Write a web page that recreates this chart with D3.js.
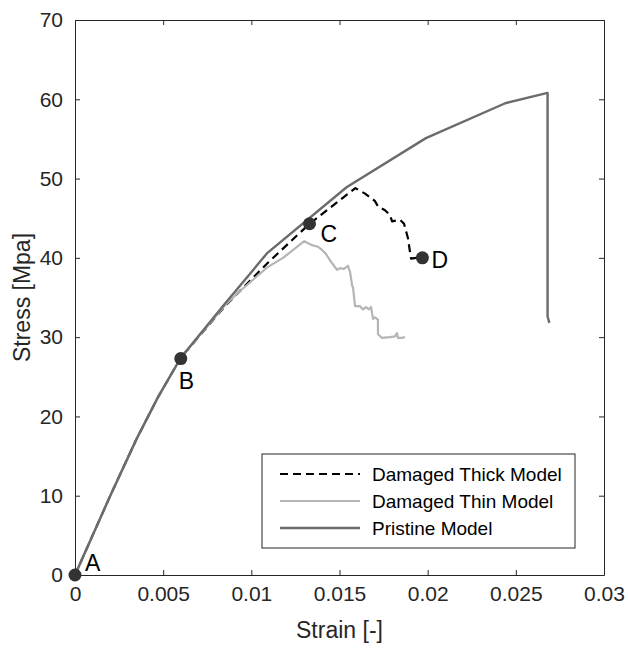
<!DOCTYPE html>
<html>
<head>
<meta charset="utf-8">
<script src="https://cdn.jsdelivr.net/npm/d3@7/dist/d3.min.js"></script>
<style>
  html, body { margin: 0; padding: 0; background: #fff; }
  svg { display: block; font-family: "Liberation Sans", Arial, Helvetica, sans-serif; }
</style>
</head>
<body>
<svg id="chart" width="628" height="648"></svg>
<script>
// Stress-strain response of the three models
const pristineStrain = [0, 0.0020, 0.0035, 0.0047, 0.0060, 0.0085, 0.0109, 0.0154, 0.0199, 0.0244, 0.0268, 0.0268, 0.0269];
const pristineStress = [0, 10.0, 17.2, 22.4, 27.4, 34.2, 40.6, 48.9, 55.1, 59.5, 60.8, 32.6, 31.8];

const thickStrain = [0, 0.0020, 0.0035, 0.0047, 0.0060, 0.0085, 0.0109, 0.0133, 0.0159, 0.01645, 0.0170, 0.01718, 0.01758, 0.01786, 0.01798, 0.01843, 0.01866, 0.01888, 0.0190, 0.01906, 0.01934, 0.0197];
const thickStress = [0, 10.0, 17.2, 22.4, 27.4, 33.9, 39.3, 44.3, 48.8, 48.1, 47.2, 46.5, 46.0, 45.4, 44.6, 44.8, 44.3, 42.5, 40.7, 39.9, 40.0, 40.0];

const thinStrain = [0, 0.0020, 0.0035, 0.0047, 0.0060, 0.0085, 0.0092, 0.0109, 0.0118, 0.0130, 0.01344, 0.01378, 0.01401, 0.01423, 0.01446, 0.01469, 0.01486, 0.01503, 0.01525, 0.01548, 0.0156, 0.01571, 0.01577, 0.01588, 0.01616, 0.01633, 0.0165, 0.01667, 0.01679, 0.0169, 0.01701, 0.01718, 0.01718, 0.01741, 0.01786, 0.01815, 0.01826, 0.01832, 0.01854, 0.01871];
const thinStress = [0, 10.0, 17.2, 22.4, 27.4, 34.0, 35.5, 38.8, 40.0, 42.1, 41.6, 41.4, 41.0, 40.5, 39.7, 39.0, 38.5, 38.7, 38.6, 39.0, 38.2, 36.6, 36.2, 33.9, 33.9, 33.5, 33.8, 33.5, 33.8, 32.3, 32.5, 32.2, 30.4, 29.9, 30.0, 30.1, 30.5, 29.9, 29.9, 30.0];

const pointLabels = ["A", "B", "C", "D"];
const pointStrain = [0, 0.0060, 0.0133, 0.0197];
const pointStress = [0, 27.3, 44.3, 40.0];

const xTicks = [0, 0.005, 0.01, 0.015, 0.02, 0.025, 0.03];
const xTickLabels = ["0", "0.005", "0.01", "0.015", "0.02", "0.025", "0.03"];
const yTicks = [0, 10, 20, 30, 40, 50, 60, 70];

const seriesNames = ["Damaged Thick Model", "Damaged Thin Model", "Pristine Model"];

const svg = d3.select("#chart");
const plotLeft = 75, plotRight = 604, plotTop = 20, plotBottom = 575;
const axisColor = "#262626";

const x = d3.scaleLinear().domain([0, 0.03]).range([plotLeft, plotRight]);
const y = d3.scaleLinear().domain([0, 70]).range([plotBottom, plotTop]);

const zip = (xs, ys) => xs.map((v, i) => [v, ys[i]]);
const line = d3.line().x(d => x(d[0])).y(d => y(d[1]));

const styles = [
  { color: "#000000", dash: "8,5", width: 2.2 },
  { color: "#b5b5b5", dash: null, width: 2.2 },
  { color: "#6b6b6b", dash: null, width: 2.4 }
];
const series = [zip(thickStrain, thickStress), zip(thinStrain, thinStress), zip(pristineStrain, pristineStress)];

svg.append("defs").append("clipPath").attr("id", "plotclip")
  .append("rect").attr("x", plotLeft).attr("y", plotTop)
  .attr("width", plotRight - plotLeft).attr("height", plotBottom - plotTop);

const plot = svg.append("g").attr("clip-path", "url(#plotclip)");
series.forEach((s, i) => {
  const p = plot.append("path")
    .attr("d", line(s))
    .attr("fill", "none")
    .attr("stroke", styles[i].color)
    .attr("stroke-width", styles[i].width)
    .attr("stroke-linejoin", "round");
  if (styles[i].dash) p.attr("stroke-dasharray", styles[i].dash);
});

// Axes with inward ticks on all four sides (boxed)
const tickLen = 5;
const xAxisB = d3.axisBottom(x).tickValues(xTicks).tickSizeInner(-tickLen).tickSizeOuter(0)
  .tickFormat((d, i) => xTickLabels[i]).tickPadding(11);
const xAxisT = d3.axisTop(x).tickValues(xTicks).tickSizeInner(-tickLen).tickSizeOuter(0).tickFormat("");
const yAxisL = d3.axisLeft(y).tickValues(yTicks).tickSizeInner(-tickLen).tickSizeOuter(0).tickPadding(12);
const yAxisR = d3.axisRight(y).tickValues(yTicks).tickSizeInner(-tickLen).tickSizeOuter(0).tickFormat("");

function styleAxis(g) {
  g.selectAll("path").attr("stroke", axisColor).attr("stroke-width", 1);
  g.selectAll("line").attr("stroke", axisColor).attr("stroke-width", 1);
  g.selectAll("text").attr("fill", axisColor).style("font-size", "21px")
    .style("font-family", "'Liberation Sans', Arial, sans-serif");
}
svg.append("g").attr("transform", `translate(0,${plotBottom})`).call(xAxisB).call(styleAxis);
svg.append("g").attr("transform", `translate(0,${plotTop})`).call(xAxisT).call(styleAxis);
svg.append("g").attr("transform", `translate(${plotLeft},0)`).call(yAxisL).call(styleAxis);
svg.append("g").attr("transform", `translate(${plotRight},0)`).call(yAxisR).call(styleAxis);

// Axis titles
svg.append("text")
  .attr("x", (plotLeft + plotRight) / 2).attr("y", 638)
  .attr("text-anchor", "middle").attr("fill", axisColor)
  .style("font-size", "23px").text("Strain [-]");
svg.append("text")
  .attr("transform", `translate(30,${(plotTop + plotBottom) / 2}) rotate(-90)`)
  .attr("text-anchor", "middle").attr("fill", axisColor)
  .style("font-size", "23px").text("Stress [Mpa]");

// Marked states A–D
const labelOffset = { A: [10, -4], B: [-2, 30], C: [11, 18], D: [9, 10] };
const pts = pointLabels.map((l, i) => ({ label: l, sx: pointStrain[i], sy: pointStress[i] }));
svg.selectAll("circle.state").data(pts).join("circle")
  .attr("class", "state")
  .attr("cx", d => x(d.sx)).attr("cy", d => y(d.sy)).attr("r", 6.5)
  .attr("fill", "#333333");
svg.selectAll("text.state").data(pts).join("text")
  .attr("class", "state")
  .attr("x", d => x(d.sx) + labelOffset[d.label][0])
  .attr("y", d => y(d.sy) + labelOffset[d.label][1])
  .attr("fill", "#000").style("font-size", "23px")
  .text(d => d.label);

// Legend
const lg = svg.append("g");
const lx = 262, ly = 454, lw = 313, lh = 94;
lg.append("rect").attr("x", lx).attr("y", ly).attr("width", lw).attr("height", lh)
  .attr("fill", "#fff").attr("stroke", axisColor).attr("stroke-width", 1);
seriesNames.forEach((name, i) => {
  const rowY = ly + 20 + i * 27;
  const l = lg.append("line")
    .attr("x1", lx + 18).attr("x2", lx + 98)
    .attr("y1", rowY).attr("y2", rowY)
    .attr("stroke", styles[i].color).attr("stroke-width", styles[i].width);
  if (styles[i].dash) l.attr("stroke-dasharray", styles[i].dash);
  lg.append("text")
    .attr("x", lx + 110).attr("y", rowY).attr("dy", "0.35em")
    .attr("fill", "#000").style("font-size", "19px")
    .text(name);
});
</script>
</body>
</html>
